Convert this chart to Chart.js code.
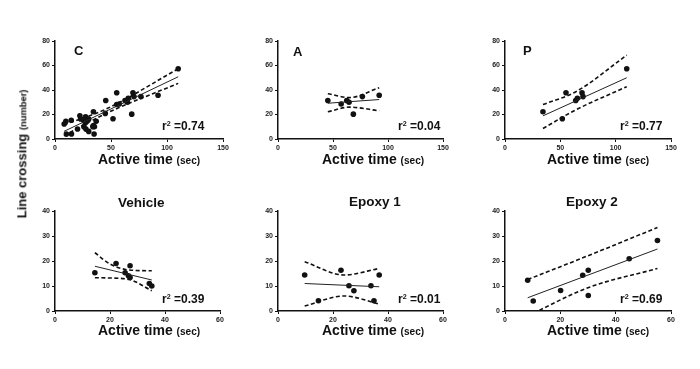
<!DOCTYPE html>
<html>
<head>
<meta charset="utf-8">
<script src="https://cdn.jsdelivr.net/npm/chart.js@4"></script>
<style>
    body { margin: 0; width: 700px; height: 369px; position: relative; overflow: hidden; background: #fff;
           font-family: 'Liberation Sans', Arial, sans-serif; }
    canvas { position: absolute; }
    .t { position: absolute; white-space: nowrap; font-weight: bold; color: #111; line-height: 1; }
    .sm { font-size: 0.72em; }
    .sup { font-size: 0.6em; position: relative; top: -0.55em; }
</style>
</head>
<body>
<script>
// values
const aX = [45.3, 57.4, 62.5, 64.6, 68.5, 76.7, 92];
const aY = [31.4, 28.6, 31.4, 30, 20.3, 34.6, 35.7];
const aFitX = [45.3, 92];
const aFitY = [29.2, 32.2];
const aBandX = [45.3, 65, 92];
const aUpper = [37, 33.8, 41.9];
const aLower = [22.2, 26, 23];

const pX = [34.3, 51.8, 55.1, 63.9, 65.4, 69.6, 70.5, 110];
const pY = [22.2, 16.5, 37.8, 31.4, 33.2, 37.8, 34.6, 57.3];
const pFitX = [34.3, 110];
const pFitY = [18.9, 50];
const pBandX = [34.3, 64, 110];
const pUpper = [28.1, 38.6, 68.4];
const pLower = [8.6, 23.8, 42.7];

const vehX = [14.5, 22.2, 25.5, 26.7, 27.3, 27.3, 34.3, 35.2];
const vehY = [15.3, 19, 15.3, 14.1, 18.1, 13.4, 11, 10];
const vehFitX = [14.5, 35.2];
const vehFitY = [17.9, 12.4];
const vehBandX = [14.5, 20, 27, 35.2];
const vehUpper = [23.3, 18.8, 16.4, 16.1];
const vehLower = [13.3, 13.2, 12.6, 8.1];

const ep1X = [9.7, 14.7, 22.9, 25.8, 27.6, 33.8, 34.9, 36.8];
const ep1Y = [14.4, 4.1, 16.3, 10.1, 8.1, 10.1, 4.1, 14.4];
const ep1FitX = [9.7, 36.8];
const ep1FitY = [11, 9.7];
const ep1BandX = [9.7, 24, 36.8];
const ep1Upper = [19.7, 14.4, 17];
const ep1Lower = [2, 6, 2.8];

const ep2X = [8.2, 10.2, 20.1, 28.1, 30.1, 30.1, 44.9, 55.1];
const ep2Y = [12.3, 4, 8.2, 14.3, 16.3, 6.2, 20.9, 28.2];
const ep2FitX = [8.2, 55.1];
const ep2FitY = [5.3, 24.8];
const ep2BandX = [8.2, 30, 55.1];
const ep2Upper = [12.6, 22.1, 33.4];
const ep2Lower = [-2, 9.3, 17];

// C pools every animal from the other five groups
const cX = [].concat(aX, pX, vehX, ep1X, ep2X);
const cY = [].concat(aY, pY, vehY, ep1Y, ep2Y);
const cFitX = [8, 110];
const cFitY = [6.2, 50.8];
const cBandX = [8, 45, 110];
const cUpper = [11.6, 24.2, 57.3];
const cLower = [2.7, 20.6, 45.4];

const topTicksX = [0, 50, 100, 150];
const topTicksY = [0, 20, 40, 60, 80];
const botTicksX = [0, 20, 40, 60];
const botTicksY = [0, 10, 20, 30, 40];

const ink = '#111';
Chart.defaults.font.family = "'Liberation Sans', Arial, sans-serif";

const panels = [
    { x: cX, y: cY, fx: cFitX, fy: cFitY, bx: cBandX, up: cUpper, lo: cLower, tx: topTicksX, ty: topTicksY, box: [55, 41, 223, 139] },
    { x: aX, y: aY, fx: aFitX, fy: aFitY, bx: aBandX, up: aUpper, lo: aLower, tx: topTicksX, ty: topTicksY, box: [278, 41, 443, 139] },
    { x: pX, y: pY, fx: pFitX, fy: pFitY, bx: pBandX, up: pUpper, lo: pLower, tx: topTicksX, ty: topTicksY, box: [505, 41, 671, 139] },
    { x: vehX, y: vehY, fx: vehFitX, fy: vehFitY, bx: vehBandX, up: vehUpper, lo: vehLower, tx: botTicksX, ty: botTicksY, box: [55, 211, 220, 311] },
    { x: ep1X, y: ep1Y, fx: ep1FitX, fy: ep1FitY, bx: ep1BandX, up: ep1Upper, lo: ep1Lower, tx: botTicksX, ty: botTicksY, box: [278, 211, 443, 311] },
    { x: ep2X, y: ep2Y, fx: ep2FitX, fy: ep2FitY, bx: ep2BandX, up: ep2Upper, lo: ep2Lower, tx: botTicksX, ty: botTicksY, box: [505, 211, 671, 311] },
];

function pairs(xs, ys) {
    return xs.map((v, i) => ({ x: v, y: ys[i] }));
}

function axis(ticks, fit) {
    return {
        type: 'linear',
        min: ticks[0],
        max: ticks[ticks.length - 1],
        ticks: { stepSize: ticks[1] - ticks[0], color: '#222', padding: 2, font: { size: 7, weight: 'bold' } },
        grid: { drawOnChartArea: false, tickLength: 3, color: ink, lineWidth: 1 },
        border: { color: ink, width: 1.5 },
        afterFit: fit,
    };
}

function makeChart(p) {
    const pad = { l: 35, t: 8, r: 12, b: 22 };
    const w = p.box[2] - p.box[0] + pad.l + pad.r;
    const h = p.box[3] - p.box[1] + pad.t + pad.b;
    const cv = document.createElement('canvas');
    cv.width = w;
    cv.height = h;
    cv.style.left = (p.box[0] - pad.l) + 'px';
    cv.style.top = (p.box[1] - pad.t) + 'px';
    document.body.appendChild(cv);

    const band = (ys) => ({
        type: 'line', data: pairs(p.bx, ys), borderColor: ink, borderWidth: 1.6,
        borderDash: [4, 2.5], pointRadius: 0, cubicInterpolationMode: 'monotone', fill: false,
    });

    new Chart(cv, {
        type: 'scatter',
        data: {
            datasets: [
                band(p.up),
                band(p.lo),
                { type: 'line', data: pairs(p.fx, p.fy), borderColor: '#222', borderWidth: 1, pointRadius: 0, fill: false },
                { data: pairs(p.x, p.y), pointRadius: 2.8, backgroundColor: ink, borderWidth: 0 },
            ],
        },
        options: {
            responsive: false,
            animation: false,
            events: [],
            layout: { padding: { left: 0, top: pad.t, right: pad.r, bottom: 0 } },
            plugins: { legend: { display: false }, tooltip: { enabled: false } },
            scales: {
                x: axis(p.tx, (s) => { s.height = pad.b; }),
                y: axis(p.ty, (s) => { s.width = pad.l; }),
            },
        },
    });
}

panels.forEach(makeChart);

// text, placed by baseline
function label(html, x, base, size, align) {
    const d = document.createElement('div');
    d.className = 't';
    d.style.fontSize = size + 'px';
    d.innerHTML = html;
    d.style.top = (base - 0.8465 * size) + 'px';
    document.body.appendChild(d);
    if (align === 'center') x -= d.offsetWidth / 2;
    d.style.left = x + 'px';
}

label('C', 74, 55, 13);
label('A', 293, 56, 13);
label('P', 523, 55, 13);

label('Vehicle', 141.5, 207, 13.5, 'center');
label('Epoxy 1', 375, 206, 13.5, 'center');
label('Epoxy 2', 592, 206, 13.5, 'center');

const rTexts = ['0.74', '0.04', '0.77', '0.39', '0.01', '0.69'];
const rPos = [[162, 130], [398, 130], [620, 130], [162, 302.7], [398, 302.7], [620, 302.7]];
rTexts.forEach((r, i) => label('r<span class="sup">2</span> =' + r, rPos[i][0], rPos[i][1], 12));

[[98, 164], [322, 164], [547, 164], [98, 335], [322, 335], [547, 335]].forEach((pos) =>
    label('Active time <span class="sm">(sec)</span>', pos[0], pos[1], 14));

const yl = document.createElement('div');
yl.className = 't';
yl.style.fontSize = '13px';
yl.innerHTML = 'Line crossing <span class="sm">(number)</span>';
yl.style.left = '22px';
yl.style.top = '153.5px';
yl.style.transform = 'translate(-50%, -50%) rotate(-90deg)';
document.body.appendChild(yl);
</script>
</body>
</html>
